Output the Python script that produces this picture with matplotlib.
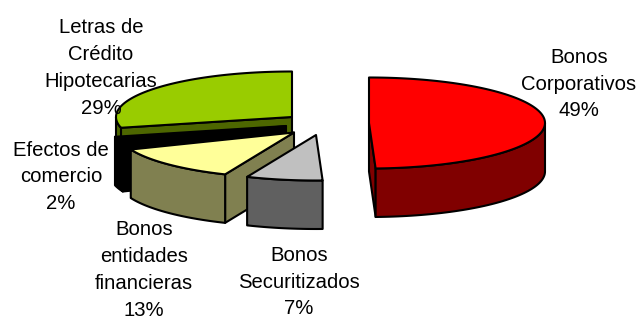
import numpy as np
import matplotlib
matplotlib.use("Agg")
import matplotlib.pyplot as plt
from matplotlib.patches import Polygon

plt.rcParams['font.family'] = ['Liberation Sans', 'DejaVu Sans']

# clockwise from 12 o'clock
names = ["Bonos\nCorporativos", "Bonos\nSecuritizados", "Bonos\nentidades\nfinancieras",
         "Efectos de\ncomercio", "Letras de\nCrédito\nHipotecarias"]
values = [49.4, 7.0, 12.5, 2.3, 28.8]
pct_labels = ["49%", "7%", "13%", "2%", "29%"]

top_cols = ["#ff0000", "#c0c0c0", "#ffff99", "#000000", "#99cc00"]
side_cols = ["#800000", "#606060", "#808050", "#000000", "#4d6600"]

# exploded slice centres, in pixels
centres = [(369, 123), (316, 135), (294, 132.5), (286, 126), (292, 117)]
label_pos = [(579, 84), (299, 282), (144, 270), (61, 177), (101, 68)]
RX, RY, DEPTH = 176, 45.5, 48.5

fig = plt.figure(figsize=(6.38, 3.2), dpi=100)
ax = fig.add_axes([0, 0, 1, 1])
ax.set_xlim(0, 638)
ax.set_ylim(320, 0)
ax.axis("off")


def rim(cx, cy, t):
    return cx + RX * np.sin(t), cy - RY * np.cos(t)


def face(pts, col, z):
    ax.add_patch(Polygon(pts, closed=True, facecolor=col, edgecolor="black",
                         linewidth=1.5, joinstyle="round", zorder=z))


def draw_slice(i, t0, t1, z):
    cx, cy = centres[i]
    # cut faces
    for t, show in ((t0, np.sin(t0) < -1e-6), (t1, np.sin(t1) > 1e-6)):
        if show:
            x, y = rim(cx, cy, t)
            face([(cx, cy), (x, y), (x, y + DEPTH), (cx, cy + DEPTH)], side_cols[i], z)
    # outer wall, front part only
    a, b = max(t0, np.pi / 2), min(t1, 3 * np.pi / 2)
    if b > a:
        tt = np.linspace(a, b, 60)
        x, y = rim(cx, cy, tt)
        pts = list(zip(x, y)) + list(zip(x[::-1], y[::-1] + DEPTH))
        face(pts, side_cols[i], z)
    # top
    tt = np.linspace(t0, t1, 120)
    x, y = rim(cx, cy, tt)
    face([(cx, cy)] + list(zip(x, y)), top_cols[i], z)


edges = np.cumsum([0] + values) / sum(values) * 2 * np.pi
for z, i in enumerate([4, 3, 2, 1, 0]):
    draw_slice(i, edges[i], edges[i + 1], z + 1)

for i in range(len(names)):
    ax.text(label_pos[i][0], label_pos[i][1], names[i] + "\n" + pct_labels[i],
            ha="center", va="center", fontsize=14.6, linespacing=1.53,
            color="black", zorder=10)

fig.savefig("out.png", dpi=100, facecolor="white")
